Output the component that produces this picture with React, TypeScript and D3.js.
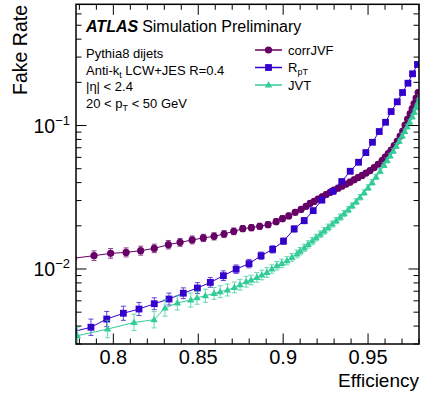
import React from "react";
import * as d3 from "d3";

// ---------- data ----------
const corrEff = [0.7765, 0.7886, 0.7984, 0.8075, 0.8161, 0.8241, 0.8324, 0.8393, 0.8464, 0.853, 0.8593, 0.8652, 0.8709, 0.8762, 0.8813, 0.8862, 0.8911, 0.8959, 0.8996, 0.9033, 0.9071, 0.9106, 0.9135, 0.9159,
  0.9183, 0.9206, 0.923, 0.9253, 0.9277, 0.93, 0.9324, 0.9347, 0.9371, 0.9394, 0.9418, 0.9441, 0.9465, 0.9488, 0.9512, 0.9536, 0.9559, 0.9583, 0.9601, 0.9619, 0.9636, 0.9654, 0.9672, 0.9689, 0.9704, 0.9718, 0.9733, 0.9748, 0.976, 0.9771, 0.9783, 0.9795];
const corrRate = [0.01188, 0.01238, 0.01285, 0.01305, 0.01342, 0.01392, 0.01477, 0.01533, 0.01594, 0.01646, 0.01689, 0.01754, 0.01829, 0.01911, 0.01942, 0.01983, 0.02038, 0.02138, 0.02244, 0.02343, 0.02483, 0.02606, 0.02734, 0.02869,
  0.02962, 0.03074, 0.03185, 0.03305, 0.03424, 0.03548, 0.03663, 0.03783, 0.03906, 0.04034, 0.04186, 0.04336, 0.04492, 0.04661, 0.04853, 0.05093, 0.0537, 0.057, 0.06029, 0.06375, 0.06745, 0.07252, 0.07791, 0.08447, 0.09153, 0.1008, 0.1107, 0.1213, 0.1314, 0.1424, 0.1555, 0.1699];
const corrErr = [0.08, 0.08, 0.08, 0.075, 0.075, 0.07, 0.07, 0.065, 0.065, 0.06, 0.06, 0.055, 0.055, 0.05, 0.05, 0.05, 0.05, 0.05, 0.05, 0.045, 0.045, 0.045, 0.045, 0.045,
  0.045, 0.045, 0.045, 0.045, 0.045, 0.045, 0.045, 0.045, 0.045, 0.045, 0.045, 0.045, 0.04, 0.04, 0.04, 0.04, 0.04, 0.04, 0.04, 0.04, 0.035, 0.035, 0.035, 0.035, 0.035, 0.035, 0.035, 0.035, 0.035, 0.035, 0.035, 0.035];

const rptEff = [0.7765, 0.7868, 0.7961, 0.8059, 0.8151, 0.8241, 0.8328, 0.8412, 0.8495, 0.8571, 0.8648, 0.8723, 0.8799, 0.887, 0.8938, 0.9002, 0.9065, 0.9124, 0.9177, 0.9228, 0.9293, 0.9345, 0.9395, 0.9444, 0.9487, 0.9526, 0.9566, 0.9603, 0.9636, 0.9672, 0.9703, 0.9735, 0.9762, 0.9791];
const rptRate = [0.00366, 0.003925, 0.004478, 0.004914, 0.005258, 0.005726, 0.006174, 0.006777, 0.007369, 0.008062, 0.008979, 0.009968, 0.01089, 0.01238, 0.0137, 0.01563, 0.01902, 0.02173, 0.02551, 0.0302, 0.03479, 0.04067, 0.04799, 0.05544, 0.06479, 0.07645, 0.09082, 0.1054, 0.1252, 0.1463, 0.1699, 0.1973, 0.2295, 0.2665];
const rptErr = [0.14, 0.14, 0.13, 0.12, 0.11, 0.1, 0.1, 0.09, 0.09, 0.08, 0.08, 0.07, 0.07, 0.06, 0.06, 0.05, 0.05, 0.05, 0.04, 0.04, 0.04, 0.04, 0.035, 0.035, 0.03, 0.03, 0.03, 0.03, 0.025, 0.025, 0.025, 0.025, 0.02, 0.02];

const jvtEff = [0.7788, 0.7966, 0.8122, 0.824, 0.8304, 0.8377, 0.8456, 0.8493, 0.8542, 0.8593, 0.8629, 0.8672, 0.8713, 0.8746, 0.8782, 0.8811, 0.8845, 0.8874, 0.8904, 0.8933, 0.8963, 0.8992, 0.9022, 0.9051, 0.9081,
  0.91, 0.9124, 0.9147, 0.9171, 0.9194, 0.9218, 0.9241, 0.9265, 0.9289, 0.9312, 0.9336, 0.9359, 0.9383, 0.9406, 0.943, 0.9453, 0.9477, 0.95, 0.9524, 0.9547, 0.9571, 0.9594, 0.9612, 0.963, 0.9648, 0.9666, 0.9683, 0.9701, 0.9716, 0.973, 0.9745, 0.976, 0.9772, 0.9783, 0.9795, 0.9804];
const jvtRate = [0.003423, 0.003814, 0.00424, 0.004428, 0.005342, 0.0058, 0.006075, 0.006303, 0.00651, 0.006754, 0.006942, 0.007136, 0.00744, 0.007769, 0.008154, 0.008379, 0.008738, 0.009081, 0.009469, 0.01, 0.01054, 0.01094, 0.01143, 0.01205, 0.01273,
  0.01331, 0.01404, 0.01483, 0.01566, 0.01654, 0.01746, 0.01844, 0.01948, 0.02057, 0.02173, 0.02298, 0.02435, 0.02589, 0.02761, 0.02948, 0.03164, 0.03412, 0.03693, 0.04014, 0.04385, 0.04814, 0.05302, 0.05709, 0.06154, 0.06648, 0.07193, 0.07792, 0.08477, 0.0911, 0.09808, 0.1059, 0.1151, 0.1238, 0.134, 0.1463, 0.1581];
const jvtErr = [0.15, 0.15, 0.14, 0.14, 0.14, 0.12, 0.12, 0.11, 0.11, 0.1, 0.1, 0.1, 0.09, 0.09, 0.09, 0.08, 0.08, 0.08, 0.08, 0.07, 0.07, 0.07, 0.07, 0.065, 0.065,
  0.06, 0.06, 0.06, 0.06, 0.055, 0.055, 0.055, 0.055, 0.05, 0.05, 0.05, 0.05, 0.05, 0.045, 0.045, 0.045, 0.045, 0.045, 0.045, 0.04, 0.04, 0.04, 0.04, 0.04, 0.04, 0.04, 0.035, 0.035, 0.035, 0.035, 0.035, 0.035, 0.035, 0.035, 0.035, 0.035];

const xTickValues = [0.8, 0.85, 0.9, 0.95];
const xTickLabels = ["0.8", "0.85", "0.9", "0.95"];
const yTickValues = [0.1, 0.01];
const yTickExponents = ["\u22121", "\u22122"];

const seriesNames = ["corrJVF", "R", "JVT"];
const colors = ["#660066", "#3300cc", "#33cc99"];

// ---------- layout ----------
const W = 421, H = 396;
const L = 76, R = 419, T = 4.3, B = 344;
const FONT = "'Liberation Sans', Arial, Helvetica, sans-serif";

const x = d3.scaleLinear().domain([0.778, 0.98]).range([L, R]);
const y = d3.scaleLog().domain([0.003, 0.7]).range([B, T]);

function Marker({ kind, cx, cy, color }: { kind: number; cx: number; cy: number; color: string }) {
  if (kind === 0) return <circle cx={cx} cy={cy} r={3.6} fill={color} />;
  if (kind === 1) return <rect x={cx - 3.4} y={cy - 3.4} width={6.8} height={6.8} fill={color} />;
  const s = 7.4;
  const h = s * 0.866;
  return <path d={`M${cx},${cy - h * 0.6}L${cx + s / 2},${cy + h * 0.4}L${cx - s / 2},${cy + h * 0.4}Z`} fill={color} />;
}

function Series({ eff, rate, err, kind, color }: { eff: number[]; rate: number[]; err: number[]; kind: number; color: string }) {
  const pts = eff.map((e, i) => ({ e, r: rate[i], er: err[i] }));
  const line = d3.line<{ e: number; r: number }>().x((d) => x(d.e)).y((d) => y(d.r));
  return (
    <g>
      <path d={line(pts) || ""} fill="none" stroke={color} strokeWidth={1} />
      {pts.map((p, i) => {
        const cx = x(p.e);
        const y1 = y(p.r * (1 + p.er));
        const y2 = y(p.r / (1 + p.er));
        return (
          <g key={i} stroke={color} strokeWidth={1} opacity={0.75}>
            <line x1={cx} x2={cx} y1={y1} y2={y2} />
            <line x1={cx - 2.5} x2={cx + 2.5} y1={y1} y2={y1} />
            <line x1={cx - 2.5} x2={cx + 2.5} y1={y2} y2={y2} />
          </g>
        );
      })}
      {pts.map((p, i) => (
        <Marker key={"m" + i} kind={kind} cx={x(p.e)} cy={y(p.r)} color={color} />
      ))}
    </g>
  );
}

export default function App() {
  const xTicks: { v: number; major: boolean }[] = [];
  for (let i = 78; i <= 98; i++) xTicks.push({ v: i / 100, major: i % 5 === 0 });
  const yTicks: { v: number; major: boolean }[] = [];
  for (let d = -3; d <= -1; d++) {
    for (let m = 1; m <= 9; m++) {
      const v = m * Math.pow(10, d);
      if (v >= 0.003 && v <= 0.7) yTicks.push({ v, major: m === 1 });
    }
  }
  const legendY = [50, 67.5, 85];

  return (
    <svg width={W} height={H} style={{ position: "absolute", left: 0, top: 0, background: "#fff" }} fontFamily={FONT}>
      <defs>
        <clipPath id="plotclip">
          <rect x={L} y={T} width={R - L} height={B - T} />
        </clipPath>
      </defs>
      <rect x={0} y={0} width={W} height={H} fill="#fff" />

      <g clipPath="url(#plotclip)">
        <Series eff={corrEff} rate={corrRate} err={corrErr} kind={0} color={colors[0]} />
        <Series eff={rptEff} rate={rptRate} err={rptErr} kind={1} color={colors[1]} />
        <Series eff={jvtEff} rate={jvtRate} err={jvtErr} kind={2} color={colors[2]} />
      </g>

      <g stroke="#000" strokeWidth={1}>
        {xTicks.map((t, i) => {
          const len = t.major ? 10.5 : 5.5;
          const xx = x(t.v);
          return (
            <g key={"xt" + i}>
              <line x1={xx} x2={xx} y1={B} y2={B - len} />
              <line x1={xx} x2={xx} y1={T} y2={T + len} />
            </g>
          );
        })}
        {yTicks.map((t, i) => {
          const len = t.major ? 10.5 : 5.5;
          const yy = y(t.v);
          return (
            <g key={"yt" + i}>
              <line x1={L} x2={L + len} y1={yy} y2={yy} />
              <line x1={R} x2={R - len} y1={yy} y2={yy} />
            </g>
          );
        })}
      </g>
      <rect x={L} y={T} width={R - L} height={B - T} fill="none" stroke="#000" strokeWidth={1.5} />

      {xTickValues.map((v, i) => (
        <text key={"xl" + i} x={x(v)} y={364} fontSize={20} textAnchor="middle" fill="#000">
          {xTickLabels[i]}
        </text>
      ))}
      {yTickValues.map((v, i) => (
        <text key={"yl" + i} x={70} y={y(v) + 7.5} fontSize={19.5} textAnchor="end" fill="#000">
          10
          <tspan fontSize={13} dy={-8}>{yTickExponents[i]}</tspan>
        </text>
      ))}

      <text x={419} y={387} fontSize={19} textAnchor="end" fill="#000">Efficiency</text>
      <text transform="translate(26.5,5) rotate(-90)" fontSize={19.5} textAnchor="end" fill="#000">Fake Rate</text>

      <text x={86} y={31.5} fontSize={16} fill="#000">
        <tspan fontWeight="bold" fontStyle="italic">ATLAS</tspan>
        <tspan dx={4}>Simulation Preliminary</tspan>
      </text>
      <g fontSize={13} fill="#000">
        <text x={86} y={58}>Pythia8 dijets</text>
        <text x={86} y={74.5}>
          Anti-k<tspan fontSize={9} dy={3}>t</tspan>
          <tspan dy={-3}> LCW+JES R=0.4</tspan>
        </text>
        <text x={86} y={91}>|η| &lt; 2.4</text>
        <text x={86} y={107.5}>
          20 &lt; p<tspan fontSize={9} dy={3}>T</tspan>
          <tspan dy={-3}> &lt; 50 GeV</tspan>
        </text>
      </g>

      {seriesNames.map((name, i) => (
        <g key={"lg" + i}>
          <line x1={255} x2={282} y1={legendY[i]} y2={legendY[i]} stroke={colors[i]} strokeWidth={1.5} />
          <Marker kind={i} cx={268.5} cy={legendY[i]} color={colors[i]} />
          <text x={288} y={legendY[i] + 4.7} fontSize={13} fill="#000">
            {name}
            {i === 1 ? <tspan fontSize={9} dy={3}>pT</tspan> : null}
          </text>
        </g>
      ))}
    </svg>
  );
}
